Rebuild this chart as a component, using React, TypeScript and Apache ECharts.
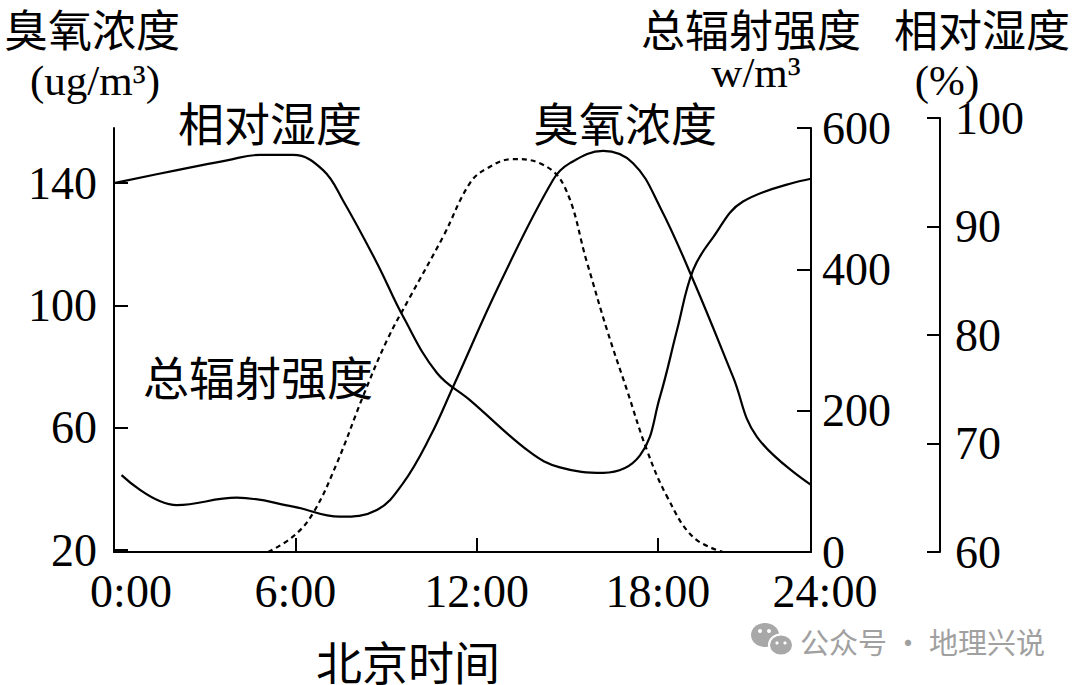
import React, { useEffect, useRef } from "react";
import * as echarts from "echarts";

// x axis: hours of the day (drawn axis ends just before 24:00 mark in the original figure)
const X_END = 23.07;
const X_TICKS = [0, 6, 12, 18];
const X_LABELS = [0, 6, 12, 18, X_END];

// Ozone concentration (ug/m3)
const OZONE_HOURS = [0.25, 2.08, 4.06, 5.93, 7.48, 8.7, 9.57, 10.46, 11.22, 12.78, 14.53, 15.09, 16.19, 17.18, 18.07, 19.17, 20.49, 21.28, 23.07];
const OZONE = [44.5, 34.7, 37.1, 34.2, 30.9, 33.1, 41.9, 57.0, 73.3, 107.3, 141.0, 146.5, 150.5, 146.5, 132.2, 108.3, 76.6, 57.0, 41.3];

// Total radiation intensity (w/m3)
const RAD_HOURS = [5.1, 5.93, 6.59, 7.38, 8.24, 9.04, 9.8, 10.89, 11.78, 12.35, 13.2, 14.1, 14.9, 15.66, 16.32, 16.98, 17.64, 18.31, 19.17, 20.16];
const RADIATION = [0, 22, 55, 126, 220, 300, 361, 446, 522, 543, 556, 550, 518, 409, 314, 229, 144, 78, 21, 0];

// Relative humidity (%)
const HUM_HOURS = [0, 2.09, 3.74, 4.83, 5.93, 6.92, 7.58, 8.71, 9.57, 10.69, 11.78, 13.77, 14.76, 16.19, 17.41, 18.07, 18.64, 19.17, 19.83, 20.82, 23.07];
const HUMIDITY = [94.0, 95.2, 96.1, 96.6, 96.6, 95.2, 92.4, 86.6, 81.7, 76.5, 74.0, 69.2, 67.8, 67.3, 68.9, 74.3, 80.5, 86.0, 89.0, 92.3, 94.4];

const OZONE_TICKS = [20, 60, 100, 140];

const SERIF = '"Liberation Serif", "Times New Roman", serif';
const CJK = '"Noto Sans CJK SC", sans-serif';

const zip = (xs: number[], ys: number[]) => xs.map((x, i) => [x, ys[i]]);

function txt(text: string, x: number, y: number, size: number, family: string, align = "left", color = "#000") {
  return {
    type: "text",
    x,
    y,
    silent: true,
    style: {
      text,
      fill: color,
      fontSize: size,
      fontFamily: family,
      lineHeight: Math.round(size * 0.85),
      align,
      verticalAlign: "middle",
      textAlign: align,
      textVerticalAlign: "middle",
    },
  };
}

export default function App() {
  const ref = useRef<HTMLDivElement>(null);
  useEffect(() => {
    if (!ref.current) return;
    const chart = echarts.init(ref.current, undefined, { renderer: "svg" });
    const axisLine = { show: true, onZero: false, lineStyle: { color: "#000", width: 2 } };
    const tick = { show: true, inside: true, length: 14, lineStyle: { color: "#000", width: 2 } };
    const label = { color: "#000", fontSize: 46, fontFamily: SERIF, lineHeight: 34 };
    const lineStyle = { color: "#000", width: 2.2 };
    chart.setOption({
      animation: false,
      backgroundColor: "#fff",
      grid: [
        { left: 114, right: 269, top: 128, bottom: 133 },
        { left: 114, right: 269, top: 118, bottom: 133 },
      ],
      xAxis: [
        {
          type: "value",
          gridIndex: 0,
          min: 0,
          max: X_END,
          axisLine,
          splitLine: { show: false },
          axisTick: { ...tick, customValues: X_TICKS },
          axisLabel: {
            ...label,
            margin: 22,
            customValues: X_LABELS,
            formatter: (v: number) => {
              if (v >= X_END - 0.001) return "{e|24:00}";
              if (v === 0) return "{s|0:00}";
              return `${Math.round(v)}:00`;
            },
            rich: {
              s: { ...label, padding: [0, 0, 0, 34] },
              e: { ...label, padding: [0, 0, 0, 28] },
            },
          },
        },
        { type: "value", gridIndex: 1, min: 0, max: X_END, show: false },
      ],
      yAxis: [
        {
          type: "value",
          gridIndex: 0,
          position: "left",
          min: 19.35,
          max: 158,
          axisLine,
          splitLine: { show: false },
          axisTick: { ...tick, customValues: OZONE_TICKS },
          axisLabel: { ...label, margin: 17, customValues: OZONE_TICKS },
        },
        {
          type: "value",
          gridIndex: 0,
          position: "right",
          min: 0,
          max: 600,
          interval: 200,
          axisLine,
          splitLine: { show: false },
          axisTick: tick,
          axisLabel: { ...label, margin: 11 },
        },
        {
          type: "value",
          gridIndex: 1,
          position: "right",
          offset: 129,
          min: 60,
          max: 100,
          interval: 10,
          axisLine,
          splitLine: { show: false },
          axisTick: { ...tick, length: 13 },
          axisLabel: { ...label, margin: 15 },
        },
      ],
      series: [
        {
          name: "臭氧浓度",
          type: "line",
          xAxisIndex: 0,
          yAxisIndex: 0,
          data: zip(OZONE_HOURS, OZONE),
          smooth: 0.4,
          showSymbol: false,
          lineStyle,
        },
        {
          name: "总辐射强度",
          type: "line",
          xAxisIndex: 0,
          yAxisIndex: 1,
          data: zip(RAD_HOURS, RADIATION),
          smooth: 0.4,
          showSymbol: false,
          lineStyle: { ...lineStyle, type: [5, 4] },
        },
        {
          name: "相对湿度",
          type: "line",
          xAxisIndex: 1,
          yAxisIndex: 2,
          data: zip(HUM_HOURS, HUMIDITY),
          smooth: 0.4,
          showSymbol: false,
          lineStyle,
        },
      ],
      graphic: [
        txt("臭氧浓度", 4, 28, 44, CJK),
        txt("(ug/m³)", 95, 80, 43, SERIF, "center"),
        txt("总辐射强度", 641, 28, 44, CJK),
        txt("w/m³", 756, 72, 43, SERIF, "center"),
        txt("相对湿度", 894, 28, 44, CJK),
        txt("(%)", 947, 80, 43, SERIF, "center"),
        txt("相对湿度", 178, 121, 46, CJK),
        txt("臭氧浓度", 533, 121, 46, CJK),
        txt("总辐射强度", 143, 375, 46, CJK),
        txt("北京时间", 316, 660, 46, CJK),
        { type: "ellipse", silent: true, shape: { cx: 765, cy: 635, rx: 14, ry: 12 }, style: { fill: "#a8a8a8" } },
        { type: "ellipse", silent: true, shape: { cx: 781, cy: 645, rx: 12, ry: 10.5 }, style: { fill: "#a8a8a8", stroke: "#fff", lineWidth: 2 } },
        { type: "circle", silent: true, shape: { cx: 760, cy: 631, r: 2 }, style: { fill: "#fff" } },
        { type: "circle", silent: true, shape: { cx: 769, cy: 631, r: 2 }, style: { fill: "#fff" } },
        { type: "circle", silent: true, shape: { cx: 777, cy: 643, r: 1.6 }, style: { fill: "#fff" } },
        { type: "circle", silent: true, shape: { cx: 785, cy: 643, r: 1.6 }, style: { fill: "#fff" } },
        txt("公众号 · 地理兴说", 800, 641, 29, CJK, "left", "#a0a0a0"),
      ],
    });
    return () => chart.dispose();
  }, []);
  return <div ref={ref} style={{ position: "absolute", left: 0, top: 0, width: 1080, height: 685 }} />;
}
